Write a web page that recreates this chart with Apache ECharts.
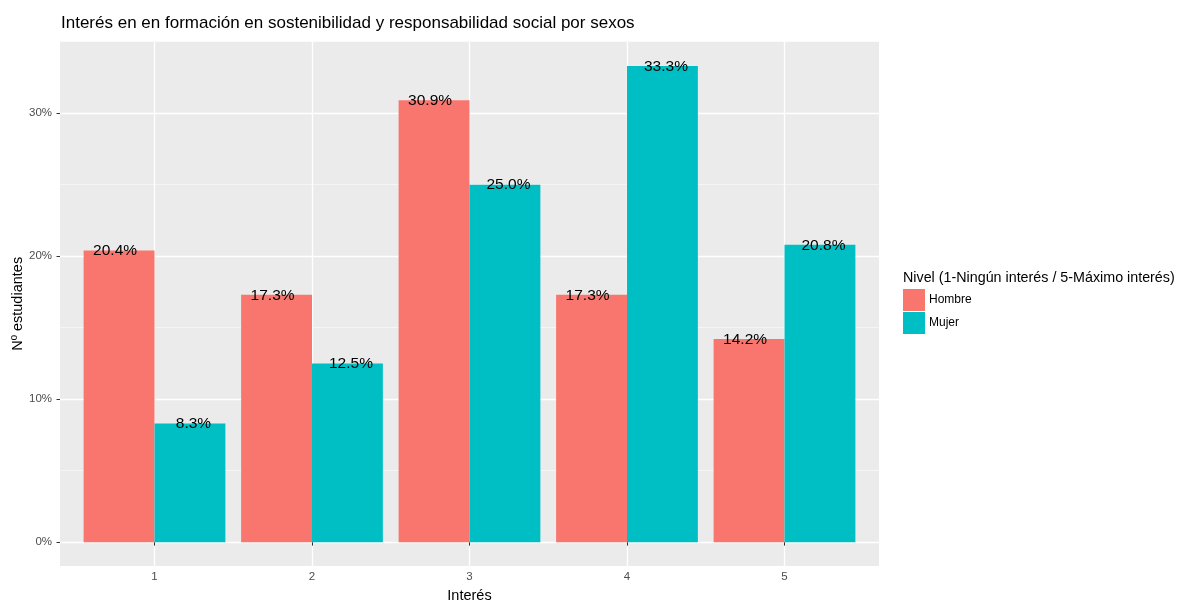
<!DOCTYPE html>
<html>
<head>
<meta charset="utf-8">
<script src="https://cdn.jsdelivr.net/npm/echarts@6/dist/echarts.min.js"></script>
<style>
  html, body { margin: 0; padding: 0; background: #ffffff; }
  #chart { width: 1189px; height: 602px; }
</style>
</head>
<body>
<div id="chart"></div>
<script>
// ---- data ----
const categories = [1, 2, 3, 4, 5];
const categoryLabels = ['1', '2', '3', '4', '5'];
const seriesNames = ['Hombre', 'Mujer'];
const hombre = [20.4, 17.3, 30.9, 17.3, 14.2];
const mujer = [8.3, 12.5, 25.0, 33.3, 20.8];
const yTicks = [0, 10, 20, 30];
const titleText = 'Interés en en formación en sostenibilidad y responsabilidad social por sexos';
const legendTitle = 'Nivel (1-Ningún interés / 5-Máximo interés)';
const xTitle = 'Interés';
const yTitle = 'Nº estudiantes';

// ---- chart ----
const FONT = 'Liberation Sans, Arial, Helvetica, sans-serif';
const colors = ['#F8766D', '#00BFC4'];
const labelShift = [-4, 3.5];
const chart = echarts.init(document.getElementById('chart'), null, { renderer: 'canvas' });

const gridLeft = 60, gridTop = 41.7, gridWidth = 819, gridHeight = 524.3;
const xMin = 0.4, xMax = 5.6;
const unitPx = gridWidth / (xMax - xMin);
const barW = 0.45 * unitPx;

function makeSeries(name, values, idx) {
  return {
    name: name,
    type: 'bar',
    barWidth: barW,
    barGap: '0%',
    itemStyle: { color: colors[idx] },
    data: categories.map((c, i) => [c, values[i]]),
    label: {
      show: true,
      position: ['50%', 0],
      align: 'center',
      verticalAlign: 'middle',
      offset: [labelShift[idx], 0.5],
      fontFamily: FONT,
      fontSize: 15.5,
      color: '#000000',
      formatter: p => p.value[1].toFixed(1) + '%'
    },
    emphasis: { disabled: true }
  };
}

const option = {
  animation: false,
  backgroundColor: '#ffffff',
  title: [
    {
      text: titleText,
      left: 56,
      top: 10,
      textStyle: { fontFamily: FONT, fontSize: 17, fontWeight: 'normal', color: '#000000' }
    },
    {
      text: legendTitle,
      left: 898,
      top: 266,
      textStyle: { fontFamily: FONT, fontSize: 14.3, fontWeight: 'normal', color: '#000000' }
    }
  ],
  legend: {
    orient: 'vertical',
    left: 903,
    top: 289,
    padding: 0,
    itemWidth: 22,
    itemHeight: 22,
    itemGap: 1,
    icon: 'rect',
    data: seriesNames,
    textStyle: { fontFamily: FONT, fontSize: 12, color: '#000000', padding: [0, 0, 0, -1] }
  },
  grid: {
    left: gridLeft,
    top: gridTop,
    width: gridWidth,
    height: gridHeight,
    containLabel: false,
    outerBoundsMode: 'none',
    show: true,
    backgroundColor: '#EBEBEB',
    borderWidth: 0
  },
  xAxis: {
    type: 'value',
    min: xMin,
    max: xMax,
    name: xTitle,
    nameLocation: 'middle',
    nameGap: 22,
    nameMoveOverlap: false,
    nameTextStyle: { fontFamily: FONT, fontSize: 14.5, color: '#000000', verticalAlign: 'top' },
    axisLine: { show: false },
    axisTick: { show: true, length: 3.5, lineStyle: { color: '#333333', width: 1 }, customValues: categories },
    axisLabel: {
      margin: 5,
      fontFamily: FONT,
      fontSize: 11.5,
      color: '#4D4D4D',
      customValues: categories,
      formatter: v => categoryLabels[categories.indexOf(v)] || ''
    },
    splitLine: { show: true, lineStyle: { color: '#ffffff', width: 1.3 } }
  },
  yAxis: {
    type: 'value',
    min: -1.667,
    max: 34.999,
    name: yTitle,
    nameLocation: 'middle',
    nameGap: 35,
    nameRotate: 90,
    nameMoveOverlap: false,
    nameTextStyle: { fontFamily: FONT, fontSize: 14.5, color: '#000000' },
    axisLine: { show: false },
    axisTick: { show: true, length: 3.5, lineStyle: { color: '#333333', width: 1 }, customValues: yTicks },
    axisLabel: {
      margin: 8,
      fontFamily: FONT,
      fontSize: 11.5,
      color: '#4D4D4D',
      customValues: yTicks,
      formatter: v => Math.round(v) + '%'
    },
    minorTick: { show: false, splitNumber: 2 },
    splitLine: { show: true, lineStyle: { color: '#ffffff', width: 1.3 } },
    minorSplitLine: { show: true, lineStyle: { color: '#F7F7F7', width: 0.8 } }
  },
  series: [makeSeries(seriesNames[0], hombre, 0), makeSeries(seriesNames[1], mujer, 1)]
};

chart.setOption(option);
</script>
</body>
</html>
